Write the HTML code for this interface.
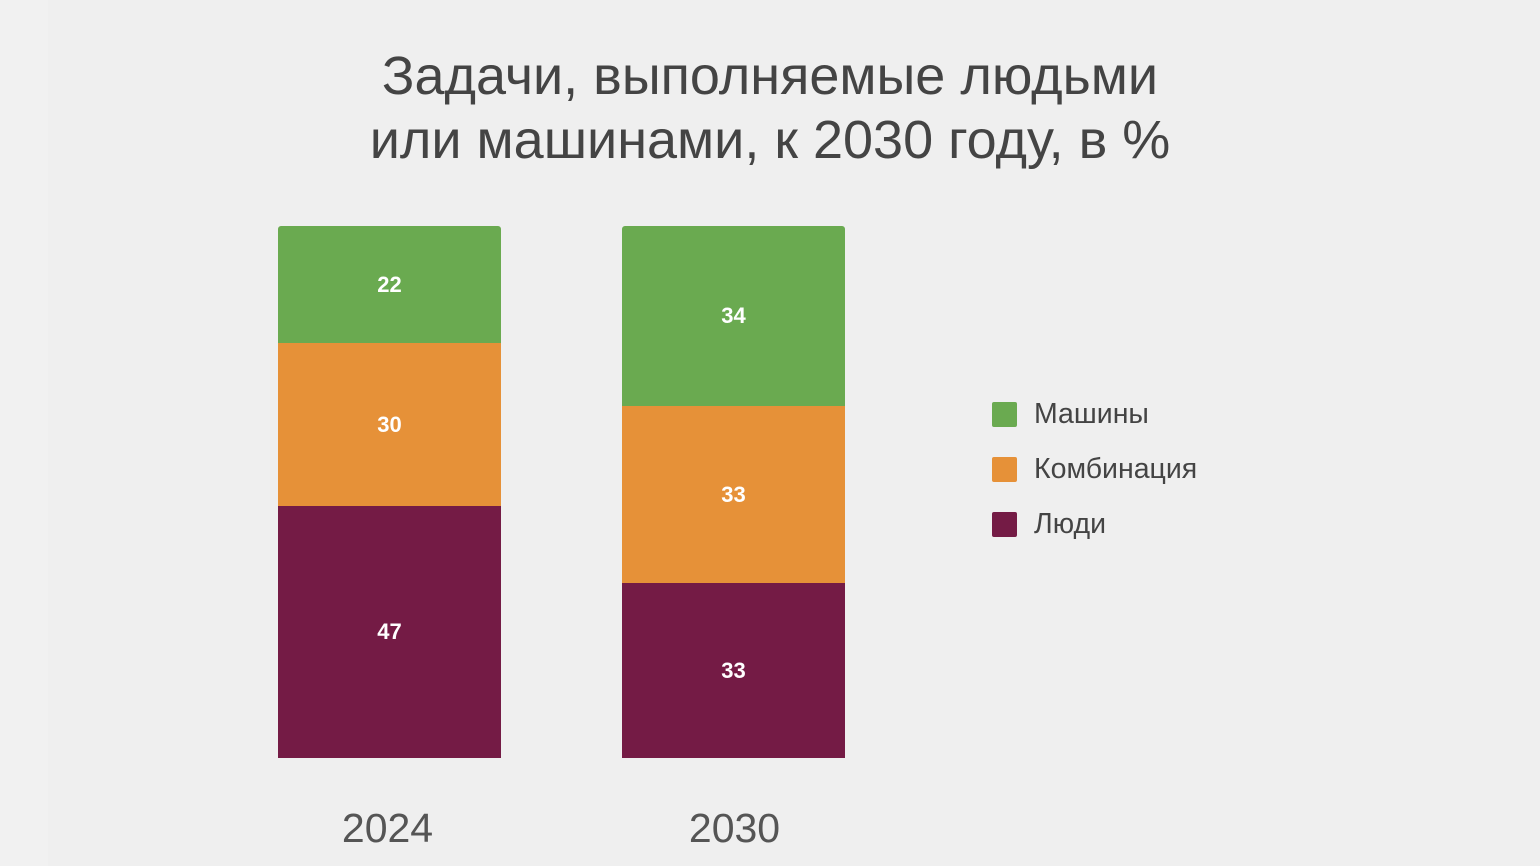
<!DOCTYPE html>
<html><head><meta charset="utf-8"><style>
body{margin:0;width:1540px;height:866px;background:#efefef;position:relative;overflow:hidden;font-family:"Liberation Sans",sans-serif}
.strip{position:absolute;left:0;top:0;width:48px;height:866px;background:#f1f1f1}
.t{position:absolute;left:0;width:1540px;text-align:center;color:#444;font-size:54px;line-height:1}
.s{position:absolute;display:flex;align-items:center;justify-content:center;color:#fff;font-weight:bold;font-size:22px}
.y{position:absolute;width:223px;text-align:center;color:#555;font-size:41px;top:805px}
.lg{position:absolute;left:992px;width:25px;height:25px;border-radius:2px}
.lt{position:absolute;left:1034px;font-size:28.5px;color:#444}
</style></head><body>
<div class="strip"></div>
<div class="t" style="top:49px">Задачи, выполняемые людьми</div>
<div class="t" style="top:113px">или машинами, к 2030 году, в %</div>

<div class="s" style="left:278px;width:223px;top:226px;height:117px;background:#6aaa50;border-radius:3px 3px 0 0">22</div>
<div class="s" style="left:278px;width:223px;top:343px;height:163px;background:#e69138">30</div>
<div class="s" style="left:278px;width:223px;top:506px;height:252px;background:#741b45">47</div>

<div class="s" style="left:622px;width:223px;top:226px;height:180px;background:#6aaa50;border-radius:3px 3px 0 0">34</div>
<div class="s" style="left:622px;width:223px;top:406px;height:177px;background:#e69138">33</div>
<div class="s" style="left:622px;width:223px;top:583px;height:175px;background:#741b45">33</div>

<div class="y" style="left:276px">2024</div>
<div class="y" style="left:623px">2030</div>

<div class="lg" style="top:402px;background:#6aaa50"></div>
<div class="lt" style="top:398px">Машины</div>
<div class="lg" style="top:457px;background:#e69138"></div>
<div class="lt" style="top:453px">Комбинация</div>
<div class="lg" style="top:512px;background:#741b45"></div>
<div class="lt" style="top:508px">Люди</div>
</body></html>
